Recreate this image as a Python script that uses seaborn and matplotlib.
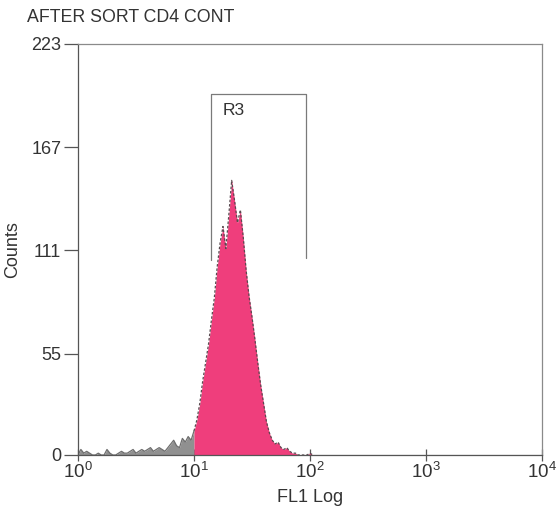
import numpy as np
import pandas as pd
import matplotlib
matplotlib.use("Agg")
import matplotlib.pyplot as plt
import seaborn as sns

# ---- data ----
title = "AFTER SORT CD4 CONT"
x_label = "FL1 Log"
y_label = "Counts"
y_ticks = [0, 55, 111, 167, 223]
x_decades = [0, 1, 2, 3, 4]

# channel positions in decades (log10 FL1) and counts
gray_log = [0.000, 0.025, 0.050, 0.075, 0.100, 0.125, 0.150, 0.175, 0.200, 0.225,
            0.250, 0.275, 0.300, 0.325, 0.350, 0.375, 0.400, 0.425, 0.450, 0.475,
            0.500, 0.525, 0.550, 0.575, 0.600, 0.625, 0.650, 0.675, 0.700, 0.725,
            0.750, 0.775, 0.800, 0.825, 0.850, 0.875, 0.900, 0.925, 0.950, 0.975, 1.000]
gray_counts = [0, 3, 1, 2, 1, 0, 0, 1, 0, 0,
               3, 1, 0, 0, 1, 2, 1, 1, 2, 3,
               1, 2, 3, 2, 3, 4, 2, 3, 4, 3,
               2, 4, 6, 8, 5, 4, 9, 7, 10, 8, 13]

pink_log = [1.000, 1.025, 1.050, 1.075, 1.100, 1.125, 1.150, 1.175, 1.200, 1.225,
            1.250, 1.275, 1.300, 1.325, 1.350, 1.375, 1.400, 1.425, 1.450, 1.475,
            1.500, 1.525, 1.550, 1.575, 1.600, 1.625, 1.650, 1.675, 1.700, 1.725,
            1.750, 1.775, 1.800, 1.825, 1.850, 1.875, 1.900, 1.925, 1.950, 1.975,
            2.000, 2.025]
pink_counts = [13, 19, 28, 40, 50, 60, 73, 85, 102, 115,
               124, 112, 130, 149, 138, 126, 133, 118, 100, 86,
               75, 63, 50, 38, 28, 18, 12, 8, 6, 7,
               4, 3, 4, 2, 1, 1, 0, 0, 0, 0,
               1, 0]

tail_log = [2.025, 4.000]
tail_counts = [0, 0]

# gate R3
gate_name = "R3"
gate_lo, gate_hi = 1.143, 1.965          # decades
gate_top = 196                            # counts
gate_left_bottom, gate_right_bottom = 106, 107

# ---- style ----
sns.set_style("white")
plt.rcParams["font.family"] = ["Liberation Sans", "DejaVu Sans"]
plt.rcParams["mathtext.fontset"] = "custom"
plt.rcParams["mathtext.rm"] = "Liberation Sans"
plt.rcParams["mathtext.it"] = "Liberation Sans"

fig = plt.figure(figsize=(5.57, 5.14), dpi=100)
ax = fig.add_axes([0.140, 0.1148, 0.833, 0.7996])

gray_df = pd.DataFrame({"fl": 10 ** np.array(gray_log), "count": gray_counts})
pink_df = pd.DataFrame({"fl": 10 ** np.array(pink_log), "count": pink_counts})
tail_df = pd.DataFrame({"fl": 10 ** np.array(tail_log), "count": tail_counts})

ax.fill_between(gray_df["fl"], 0, gray_df["count"], color="#909090", lw=0)
ax.fill_between(pink_df["fl"], 0, pink_df["count"], color="#EF3E7C", lw=0)
sns.lineplot(data=gray_df, x="fl", y="count", ax=ax, color="#6E6E6E", lw=0.9)
sns.lineplot(data=pink_df, x="fl", y="count", ax=ax, color="#5A4A50", lw=0.9,
             linestyle=(0, (2, 1.5)))
sns.lineplot(data=tail_df, x="fl", y="count", ax=ax, color="#777777", lw=0.8)

ax.set_xscale("log")
ax.set_xlim(10 ** x_decades[0], 10 ** x_decades[-1])
ax.set_ylim(0, y_ticks[-1])

# gate bracket
gx = [10 ** gate_lo, 10 ** gate_lo, 10 ** gate_hi, 10 ** gate_hi]
gy = [gate_left_bottom, gate_top, gate_top, gate_right_bottom]
ax.plot(gx, gy, color="#7a7a7a", lw=0.9)
ax.text(10 ** (gate_lo + 0.1), gate_top - 9, gate_name, fontsize=12.5,
        color="#333333", ha="left", va="center")

ax.set_yticks(y_ticks)
ax.set_yticklabels([str(v) for v in y_ticks])
ax.set_xticks([10 ** d for d in x_decades])
ax.set_xticklabels([r"$\mathregular{10^{%d}}$" % d for d in x_decades])
ax.minorticks_off()

for s in ax.spines.values():
    s.set_color("#8a8a8a")
    s.set_linewidth(0.9)
ax.spines["left"].set_color("#555555")
ax.spines["bottom"].set_color("#555555")

ax.tick_params(axis="y", which="major", length=10, width=0.9, color="#555555",
               direction="out", left=True, labelsize=13, labelcolor="#333333", pad=2)
ax.tick_params(axis="x", which="major", length=8, width=0.9, color="#555555",
               direction="inout", bottom=True, labelsize=13.5, labelcolor="#333333", pad=1)

ax.set_xlabel(x_label, fontsize=13, color="#333333", labelpad=5)
ax.set_ylabel(y_label, fontsize=13, color="#333333", labelpad=7)

fig.text(27 / 557, 1 - 18 / 514, title, fontsize=12.8, color="#333333",
         ha="left", va="center")

fig.savefig("out.png", dpi=100)
